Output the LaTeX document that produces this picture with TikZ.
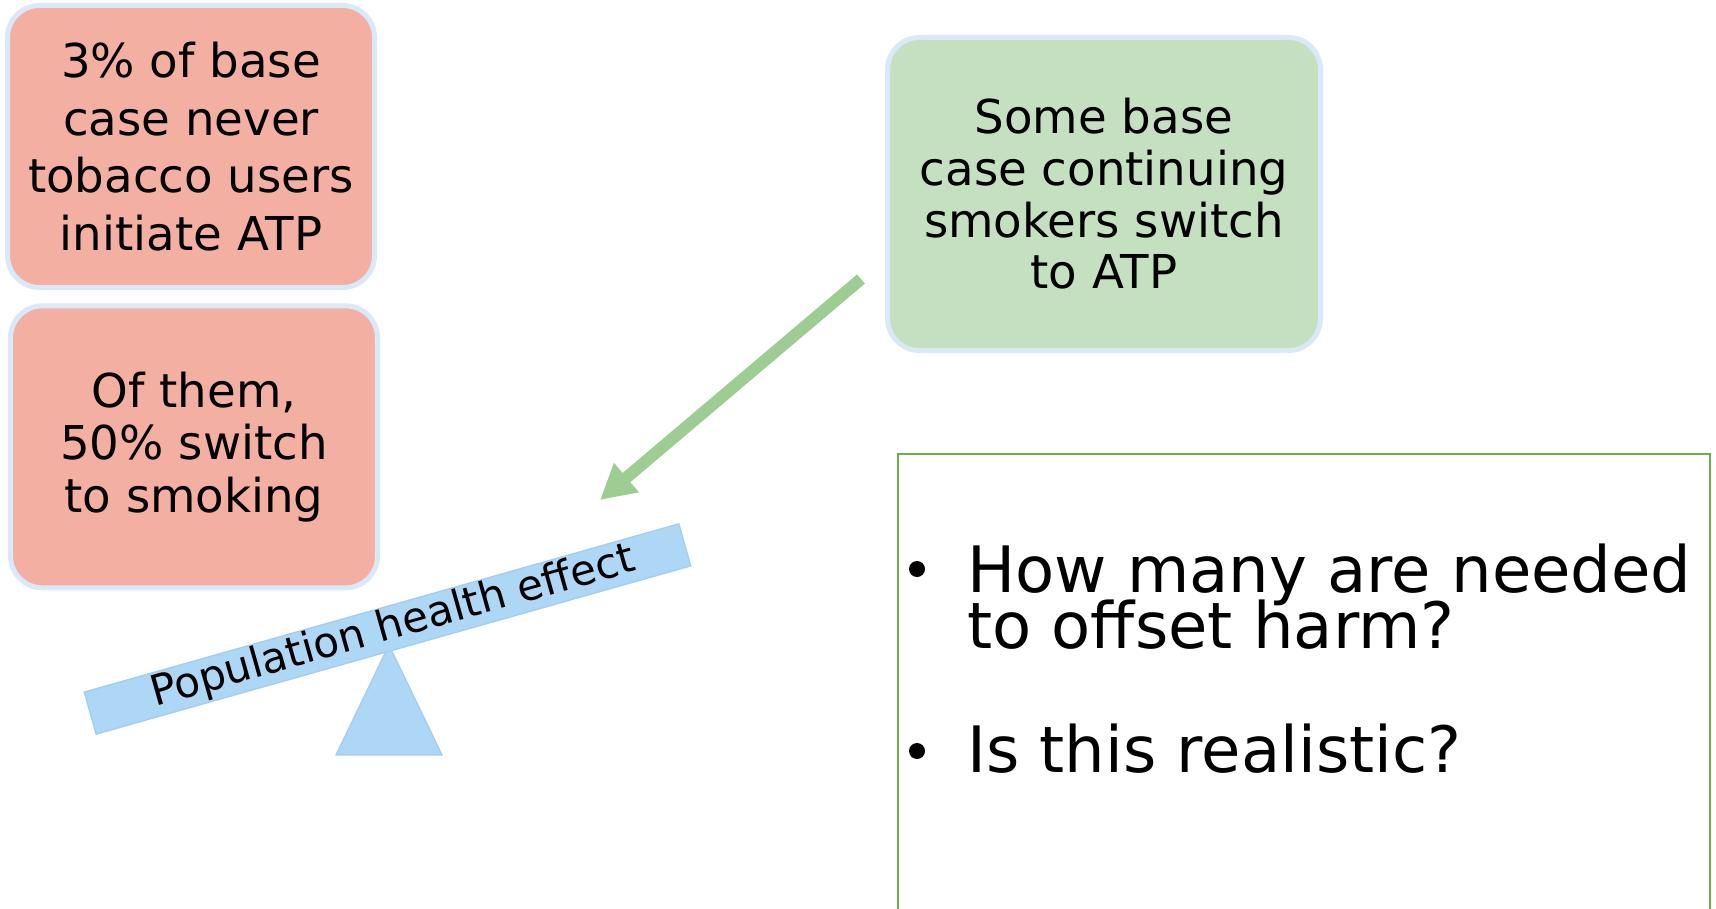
\documentclass[tikz,border=0pt]{standalone}
\usepackage{fontspec}
\setmainfont{DejaVu Sans}
\usetikzlibrary{arrows.meta}
\definecolor{redfill}{RGB}{244,175,163}
\definecolor{greenfill}{RGB}{197,224,192}
\definecolor{lightborder}{RGB}{218,233,250}
\definecolor{arrowgreen}{RGB}{157,205,147}
\definecolor{plankfill}{RGB}{174,214,245}
\definecolor{plankdraw}{RGB}{162,206,242}
\definecolor{qgreen}{RGB}{112,173,71}
\tikzset{
  infobox/.style={draw=lightborder, line width=3.75pt, rounded corners=24pt,
    align=center, inner sep=0pt},
  redbox/.style={infobox, fill=redfill, minimum width=275.25pt, minimum height=211.5pt},
  greenbox/.style={infobox, fill=greenfill, minimum width=324.75pt, minimum height=234.75pt},
  plankbar/.style={fill=plankfill, draw=plankdraw, line width=1pt, inner sep=0pt,
    font=\fontsize{31.5}{36}\selectfont},
  qtext/.style={inner sep=0pt, anchor=base west, font=\fontsize{48}{57}\selectfont},
  bigarrow/.style={draw=arrowgreen, line width=9pt,
    -{Triangle[length=26pt,width=27pt]}},
}
\begin{document}
\begin{tikzpicture}[x=0.75pt,y=-0.75pt]
\clip (0,0) rectangle (1716,909);
\fill[white] (0,0) rectangle (1716,909);

% red boxes
\node[redbox, font=\fontsize{35}{43.3}\selectfont] (init) at (191,146.5)
  {3\% of base\\case never\\tobacco users\\initiate ATP};
\node[redbox, font=\fontsize{35}{39.4}\selectfont, yshift=-2.5pt] (switch) at (194,443.5)
  {Of them,\\50\% switch\\to smoking};

% green box
\node[greenbox, font=\fontsize{35}{38.8}\selectfont] (cont) at (1104,194)
  {Some base\\case continuing\\smokers switch\\to ATP};

% arrow
\coordinate (as) at (861,279);
\coordinate (at) at (600,500);
\draw[bigarrow] (as) -- (at);

% seesaw
\fill[plankfill, draw=plankdraw, line width=1pt] (389,645) -- (442,755) -- (336,755) -- cycle;
\node[plankbar, rotate=15.8, minimum width=463.5pt, minimum height=32.8pt] (plank) at (387.5,629)
  {\hspace{9pt}Population health effect};

% question box
\node[draw=qgreen, line width=1.2pt, anchor=north west, inner sep=0pt,
  minimum width=609pt, minimum height=360pt] (qbox) at (897,453) {};
\coordinate (b1) at (917,569);
\coordinate (b2) at (917,751);
\fill[black] (b1) circle[radius=6pt];
\fill[black] (b2) circle[radius=6pt];
\node[qtext] (q1) at (967,592) {How many are needed};
\node[qtext] (q1b) at (967,648) {to offset harm?};
\node[qtext] (q2) at (967,772) {Is this realistic?};
\end{tikzpicture}
\end{document}
